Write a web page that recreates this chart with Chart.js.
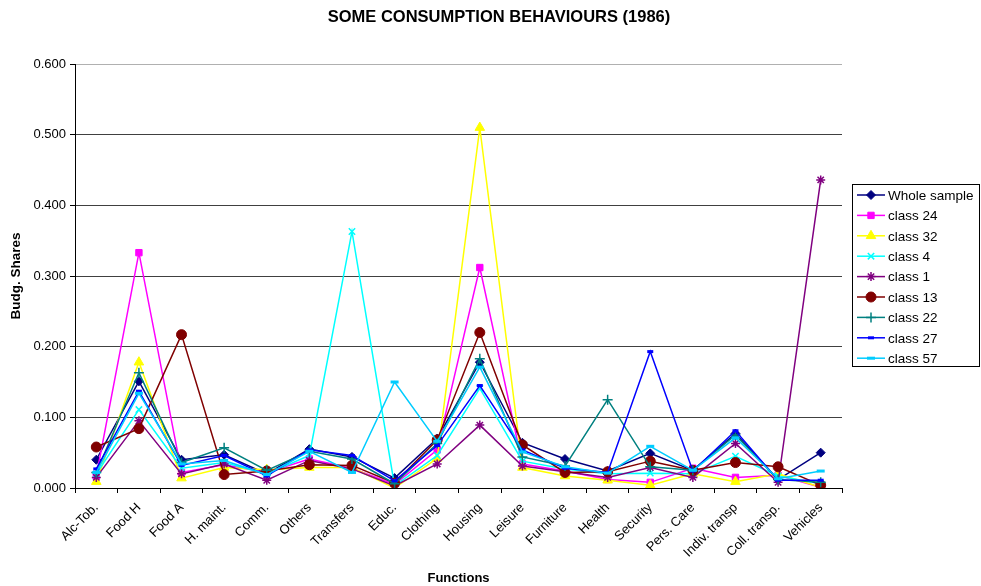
<!DOCTYPE html>
<html>
<head>
<meta charset="utf-8">
<script src="https://cdn.jsdelivr.net/npm/chart.js@4.4.1/dist/chart.umd.min.js"></script>
<style>
  html, body { margin: 0; padding: 0; background: #fff; }
  #wrap { position: relative; width: 981px; height: 586px; }
</style>
</head>
<body>
<div id="wrap"><canvas id="chart" width="981" height="586"></canvas></div>
<script>
const functions = ['Alc-Tob.', 'Food H', 'Food A', 'H. maint.', 'Comm.', 'Others', 'Transfers', 'Educ.', 'Clothing',
    'Housing', 'Leisure', 'Furniture', 'Health', 'Security', 'Pers. Care', 'Indiv. transp', 'Coll. transp.', 'Vehicles'];

const yTicks = [0, 0.1, 0.2, 0.3, 0.4, 0.5, 0.6];

const wholeSample = [0.040, 0.151, 0.040, 0.047, 0.020, 0.055, 0.044, 0.014, 0.070, 0.178, 0.064, 0.041, 0.024, 0.049, 0.025, 0.077, 0.012, 0.050];
const class24 = [0.017, 0.333, 0.022, 0.033, 0.022, 0.041, 0.028, 0.005, 0.054, 0.312, 0.034, 0.024, 0.012, 0.008, 0.028, 0.015, 0.018, 0.001];
const class32 = [0.009, 0.178, 0.014, 0.029, 0.026, 0.029, 0.029, 0.000, 0.042, 0.510, 0.029, 0.017, 0.011, 0.004, 0.020, 0.009, 0.020, 0.001];
const class4 = [0.020, 0.111, 0.028, 0.036, 0.020, 0.046, 0.363, 0.003, 0.046, 0.141, 0.038, 0.027, 0.020, 0.021, 0.020, 0.045, 0.017, 0.006];
const class1 = [0.015, 0.095, 0.020, 0.034, 0.011, 0.039, 0.027, 0.003, 0.034, 0.089, 0.031, 0.023, 0.015, 0.029, 0.015, 0.063, 0.008, 0.436];
const class13 = [0.058, 0.084, 0.217, 0.019, 0.024, 0.033, 0.032, 0.007, 0.068, 0.220, 0.061, 0.022, 0.023, 0.038, 0.025, 0.036, 0.030, 0.004];
const class22 = [0.022, 0.163, 0.036, 0.057, 0.025, 0.052, 0.041, 0.006, 0.063, 0.183, 0.044, 0.031, 0.125, 0.030, 0.025, 0.075, 0.012, 0.008];
const class27 = [0.027, 0.137, 0.032, 0.046, 0.017, 0.054, 0.046, 0.010, 0.060, 0.145, 0.054, 0.028, 0.022, 0.193, 0.024, 0.081, 0.011, 0.011];
const class57 = [0.022, 0.134, 0.034, 0.039, 0.019, 0.052, 0.022, 0.150, 0.066, 0.171, 0.051, 0.030, 0.021, 0.059, 0.025, 0.071, 0.013, 0.024];

const series = [
    { label: 'Whole sample', data: wholeSample, color: '#000080', point: 'rectRot', radius: 4.5 },
    { label: 'class 24', data: class24, color: '#FF00FF', point: 'rect', radius: 4.5 },
    { label: 'class 32', data: class32, color: '#FFFF00', point: 'triangle', radius: 5.5 },
    { label: 'class 4', data: class4, color: '#00FFFF', point: 'crossRot', radius: 4.5 },
    { label: 'class 1', data: class1, color: '#800080', point: 'star', radius: 4.5 },
    { label: 'class 13', data: class13, color: '#800000', point: 'circle', radius: 5 },
    { label: 'class 22', data: class22, color: '#008080', point: 'cross', radius: 5 },
    { label: 'class 27', data: class27, color: '#0000FF', point: 'line', radius: 3 },
    { label: 'class 57', data: class57, color: '#00CCFF', point: 'line', radius: 4 }
];

const FONT = 'Arial, "Liberation Sans", sans-serif';

// Excel-style title and boxed legend drawn on the canvas
const excelDecor = {
    id: 'excelDecor',
    afterDraw(chart) {
        const ctx = chart.ctx;
        ctx.save();
        ctx.fillStyle = '#000';
        ctx.font = 'bold 16.5px ' + FONT;
        ctx.textAlign = 'center';
        ctx.textBaseline = 'middle';
        ctx.fillText('SOME CONSUMPTION BEHAVIOURS (1986)', 499, 17);

        const box = { x: 852.5, y: 184.5, w: 127, h: 182 };
        ctx.strokeStyle = '#000';
        ctx.lineWidth = 1;
        ctx.strokeRect(box.x, box.y, box.w, box.h);

        ctx.font = '13.5px ' + FONT;
        ctx.textAlign = 'left';
        chart.data.datasets.forEach((ds, i) => {
            const y = 195 + i * 20.4;
            ctx.strokeStyle = ds.borderColor;
            ctx.fillStyle = ds.borderColor;
            ctx.lineWidth = 1.5;
            ctx.beginPath();
            ctx.moveTo(857, y);
            ctx.lineTo(885, y);
            ctx.stroke();
            ctx.lineWidth = ds.pointBorderWidth;
            Chart.helpers.drawPoint(ctx, {
                pointStyle: ds.pointStyle,
                radius: ds.pointRadius,
                borderWidth: ds.pointBorderWidth
            }, 871, y);
            ctx.fillStyle = '#000';
            ctx.fillText(ds.label, 888, y + 1);
        });
        ctx.restore();
    }
};

const gridColor = (c) => {
    const v = c.tick ? Math.round(c.tick.value * 10) : 0;
    if (v === 6) return '#b0b0b0';
    if (v === 0) return 'rgba(0,0,0,0)';
    return '#404040';
};

new Chart(document.getElementById('chart'), {
    type: 'line',
    data: {
        labels: functions,
        datasets: series.map((s, i) => ({
            label: s.label,
            data: s.data,
            borderColor: s.color,
            backgroundColor: s.color,
            pointBackgroundColor: s.color,
            pointBorderColor: s.color,
            borderWidth: 1.5,
            pointStyle: s.point,
            pointRadius: s.radius,
            pointBorderWidth: (s.point === 'line' ? 3 : (s.point === 'crossRot' || s.point === 'star' || s.point === 'cross') ? 1.5 : 1),
            tension: 0,
            fill: false,
            order: series.length - i
        }))
    },
    options: {
        responsive: false,
        animation: false,
        layout: { padding: { top: 64, right: 139, left: 0, bottom: 0 } },
        plugins: {
            legend: { display: false },
            title: { display: false },
            tooltip: { enabled: false }
        },
        scales: {
            x: {
                offset: true,
                afterFit(scale) { scale.height = 98; },
                grid: {
                    offset: true,
                    drawOnChartArea: false,
                    color: '#000',
                    tickLength: 5
                },
                border: { color: '#000', width: 1 },
                ticks: {
                    autoSkip: false,
                    maxRotation: 45,
                    minRotation: 45,
                    padding: 7,
                    color: '#000',
                    font: { family: FONT, size: 13 }
                },
                title: {
                    display: true,
                    text: 'Functions',
                    color: '#000',
                    font: { family: FONT, size: 13, weight: 'bold' },
                    padding: { top: 0, bottom: 0 }
                }
            },
            y: {
                min: 0,
                max: 0.6,
                afterFit(scale) { scale.width = 75; },
                afterBuildTicks(scale) { scale.ticks = yTicks.map(v => ({ value: v })); },
                grid: {
                    color: gridColor,
                    tickColor: '#000',
                    tickLength: 5,
                    lineWidth: 1
                },
                border: { color: '#000', width: 1 },
                ticks: {
                    padding: 4,
                    color: '#000',
                    font: { family: FONT, size: 13 },
                    callback: v => v.toFixed(3)
                },
                title: {
                    display: true,
                    text: 'Budg. Shares',
                    color: '#000',
                    font: { family: FONT, size: 13.5, weight: 'bold' },
                    padding: { top: 8, bottom: 0 }
                }
            }
        }
    },
    plugins: [excelDecor]
});
</script>
</body>
</html>
